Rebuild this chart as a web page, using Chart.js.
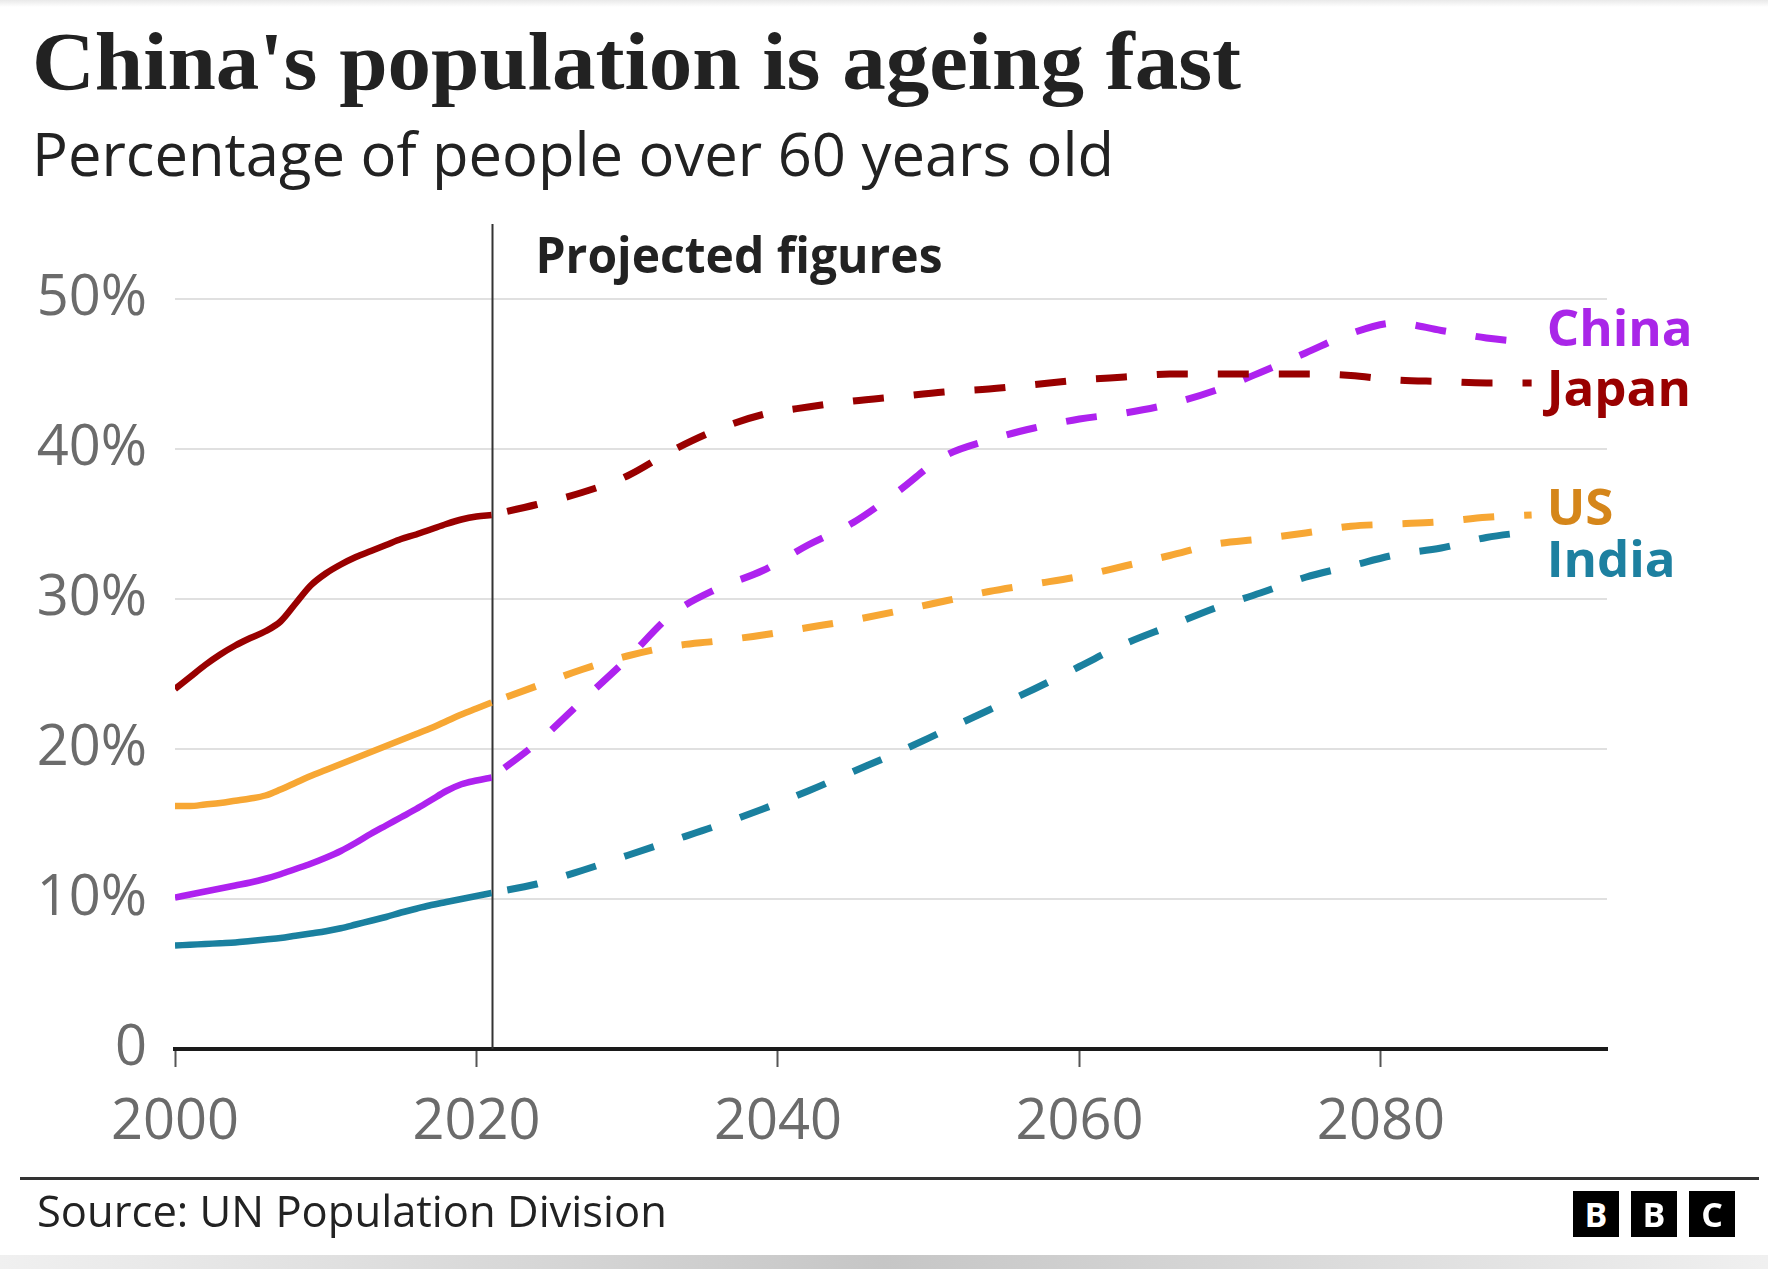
<!DOCTYPE html>
<html>
<head>
<meta charset="utf-8">
<script src="https://cdn.jsdelivr.net/npm/chart.js@4.4.1/dist/chart.umd.min.js"></script>
<style>
html,body{margin:0;padding:0;background:#fff;}
body{width:1768px;height:1269px;position:relative;overflow:hidden;font-family:"Open Sans",sans-serif;}
#chart{position:absolute;left:0;top:0;}
.txt{position:absolute;white-space:nowrap;line-height:1;transform-origin:0 0;color:#222;}
#title{left:32px;top:20px;font-family:"Liberation Serif",serif;font-weight:700;font-size:83px;}
#subtitle{left:32px;top:123px;font-size:60px;font-weight:400;}
#source{left:37px;top:1188px;font-size:44px;font-weight:400;}
#rule{position:absolute;left:20px;top:1177px;width:1739px;height:3px;background:#333;}
#topband{position:absolute;left:0;top:0;width:1768px;height:7px;background:linear-gradient(#e9e9e9,#fff);}
#bottomband{position:absolute;left:0;top:1255px;width:1768px;height:14px;background:linear-gradient(to right,#f0f0f0,#c6c6c6 50%,#f0f0f0);}
.bbc{position:absolute;top:1191px;width:46px;height:46px;background:#000;color:#fff;font:700 34px "Open Sans",sans-serif;display:flex;align-items:center;justify-content:center;}
</style>
</head>
<body>
<div id="topband"></div>
<canvas id="chart" width="1768" height="1269"></canvas>
<div id="title" class="txt">China's population is ageing fast</div>
<div id="subtitle" class="txt">Percentage of people over 60 years old</div>
<div id="rule"></div>
<div id="source" class="txt">Source: UN Population Division</div>
<div class="bbc" style="left:1573px">B</div>
<div class="bbc" style="left:1631px">B</div>
<div class="bbc" style="left:1689px">C</div>
<div id="bottomband"></div>
<script>
// ---------- DATA ----------
const histYears = [2000,2001,2002,2003,2004,2005,2006,2007,2008,2009,2010,2011,2012,2013,2014,2015,2016,2017,2018,2019,2020,2021];
const projYears = [2021,2024,2027,2030,2033,2036,2039,2042,2045,2048,2051,2054,2057,2060,2063,2066,2069,2072,2075,2078,2081,2084,2087,2090];

const japanHist = [24.0,24.8,25.6,26.3,26.9,27.4,27.85,28.5,29.7,30.9,31.7,32.3,32.8,33.2,33.6,34.0,34.3,34.65,35.0,35.3,35.5,35.6];
const usHist    = [16.2,16.2,16.3,16.4,16.55,16.7,16.9,17.3,17.75,18.2,18.6,19.0,19.4,19.8,20.2,20.6,21.0,21.4,21.85,22.3,22.7,23.1];
const chinaHist = [10.1,10.3,10.5,10.7,10.9,11.1,11.35,11.65,12.0,12.35,12.75,13.2,13.75,14.35,14.9,15.45,16.0,16.6,17.2,17.65,17.9,18.1];
const indiaHist = [6.9,6.95,7.0,7.05,7.1,7.2,7.3,7.4,7.55,7.7,7.85,8.05,8.3,8.55,8.8,9.1,9.35,9.6,9.8,10.0,10.2,10.4];

const japanProj = [35.6,36.3,37.1,38.2,39.9,41.3,42.3,42.8,43.2,43.5,43.8,44.0,44.3,44.6,44.8,45.0,45.0,45.0,45.0,44.9,44.6,44.5,44.4,44.4];
const usProj    = [23.1,24.2,25.3,26.2,26.85,27.2,27.6,28.1,28.6,29.2,29.85,30.5,31.0,31.5,32.2,32.9,33.65,34.0,34.4,34.85,35.0,35.15,35.45,35.6];
const chinaProj = [18.1,20.4,23.2,26.0,29.0,30.7,31.9,33.6,35.1,37.2,39.5,40.6,41.4,42.0,42.4,43.0,43.9,45.1,46.4,47.7,48.4,47.9,47.4,47.1];
const indiaProj = [10.4,11.0,11.9,12.9,13.9,14.9,16.0,17.2,18.5,19.8,21.2,22.6,24.0,25.5,27.0,28.2,29.4,30.4,31.45,32.2,32.95,33.4,34.1,34.5];

const countries = ['Japan','US','India','China'];
const xTicks = [2000,2020,2040,2060,2080];
const yTicks = [0,10,20,30,40,50];
const projectionStart = 2021;
const projectionText = 'Projected figures';

// ---------- STYLES ----------
const lineColors  = {Japan:'#990000', US:'#f7a734', India:'#1a809f', China:'#ae22ef'};
const labelColors = {Japan:'#990000', US:'#d5861a', India:'#1d80a0', China:'#a926e8'};
const labelNudge  = {Japan:-0.3, US:0.55, India:-1.85, China:0.98};
const series = {
  Japan:{hist:japanHist, proj:japanProj},
  US:{hist:usHist, proj:usProj},
  India:{hist:indiaHist, proj:indiaProj},
  China:{hist:chinaHist, proj:chinaProj}
};

function fitWidth(id, target){
  const el = document.getElementById(id);
  el.style.transform = 'none';
  const w = el.getBoundingClientRect().width;
  el.style.transform = 'scaleX(' + (target / w) + ')';
}

const datasets = [];
countries.forEach(c => {
  datasets.push({
    label: c + ' (estimates)',
    data: histYears.map((yr,i) => ({x:yr, y:series[c].hist[i]})),
    borderColor: lineColors[c], borderWidth: 6.5, pointRadius: 0,
    cubicInterpolationMode: 'monotone', borderCapStyle:'butt', borderJoinStyle:'round', fill:false
  });
  datasets.push({
    label: c + ' (projected)',
    data: projYears.map((yr,i) => ({x:yr, y:series[c].proj[i]})),
    borderColor: lineColors[c], borderWidth: 7, pointRadius: 0,
    borderDash: [31,30], borderDashOffset: 45,
    cubicInterpolationMode: 'monotone', borderCapStyle:'butt', borderJoinStyle:'round', fill:false
  });
});

const overlay = {
  id: 'overlay',
  beforeDatasetsDraw(chart){
    const {ctx, chartArea:a, scales:{x}} = chart;
    const px = Math.round(x.getPixelForValue(projectionStart)) + 0.5;
    ctx.save();
    ctx.strokeStyle = '#333'; ctx.lineWidth = 2;
    ctx.beginPath(); ctx.moveTo(px, a.top); ctx.lineTo(px, a.bottom); ctx.stroke();
    ctx.fillStyle = '#222';
    ctx.font = '700 51px "Open Sans"';
    ctx.textBaseline = 'alphabetic'; ctx.textAlign = 'left';
    const w = ctx.measureText(projectionText).width;
    ctx.translate(px + 43, a.top + 48.7);
    ctx.scale(407 / w, 1);
    ctx.fillText(projectionText, 0, 0);
    ctx.restore();
  },
  afterDatasetsDraw(chart){
    const {ctx, scales:{x, y}} = chart;
    ctx.save();
    const size = 51;
    ctx.font = '700 ' + size + 'px "Open Sans"';
    ctx.textBaseline = 'alphabetic'; ctx.textAlign = 'left';
    countries.forEach(c => {
      const p = series[c].proj;
      const lx = x.getPixelForValue(projYears[projYears.length-1]) + 15;
      const ly = y.getPixelForValue(p[p.length-1] + labelNudge[c]) + 0.714*size/2;
      ctx.fillStyle = labelColors[c];
      ctx.fillText(c, lx, ly);
    });
    ctx.restore();
  }
};

function build(){
  fitWidth('title', 1209);
  fitWidth('subtitle', 1082);
  fitWidth('source', 630);
  new Chart(document.getElementById('chart'), {
    type: 'line',
    data: { datasets },
    options: {
      responsive: false, animation: false, devicePixelRatio: 1,
      layout: { padding: { left: 0, right: 161, top: 224, bottom: 120 } },
      plugins: { legend: { display: false }, tooltip: { enabled: false } },
      scales: {
        x: {
          type: 'linear', min: 2000, max: 2095,
          afterBuildTicks: s => { s.ticks = xTicks.map(v => ({value: v})); },
          afterFit: s => { s.height = 100; },
          border: { display: true, color: '#1a1a1a', width: 4 },
          grid: { display: true, drawOnChartArea: false, drawTicks: true, tickLength: 18, tickColor: '#555', tickWidth: 2 },
          ticks: { color: '#6b6b6b', font: { family: 'Open Sans', size: 56 }, padding: 22, maxRotation: 0, autoSkip: false, callback: v => String(v) }
        },
        y: {
          min: 0, max: 55,
          afterBuildTicks: s => { s.ticks = yTicks.map(v => ({value: v})); },
          afterFit: s => { s.width = 175; },
          border: { display: false },
          grid: { drawTicks: false, lineWidth: 2, color: c => (c.tick && c.tick.value === 0) ? 'rgba(0,0,0,0)' : '#e0e0e0' },
          ticks: { color: '#6b6b6b', font: { family: 'Open Sans', size: 56 }, padding: 28, callback: v => v === 0 ? '0' : v + '%' }
        }
      }
    },
    plugins: [overlay]
  });
}

Promise.all([
  document.fonts.load('56px "Open Sans"'),
  document.fonts.load('700 51px "Open Sans"'),
  document.fonts.load('700 83px "Liberation Serif"')
]).catch(() => {}).then(build);
</script>
</body>
</html>
